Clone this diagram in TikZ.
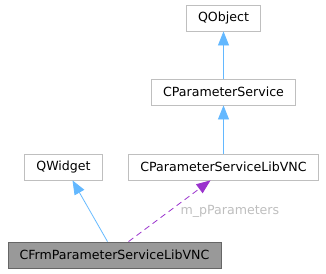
\documentclass[tikz,border=0pt]{standalone}
\usepackage{fontspec}
\setmainfont{DejaVu Sans}
\usetikzlibrary{arrows.meta}

% Doxygen colours
\definecolor{boxline}{HTML}{BFBFBF}
\definecolor{curfill}{HTML}{999999}
\definecolor{curline}{HTML}{666666}
\definecolor{inherit}{HTML}{63B8FF}
\definecolor{usage}{HTML}{9A32CD}
\definecolor{labelgray}{HTML}{BEBEBE}

\begin{document}
\begin{tikzpicture}[x=1pt,y=-1pt,
    font=\fontsize{12.6}{15}\selectfont,
    classbox/.style={draw=boxline, fill=white, line width=0.8pt,
        inner xsep=11.5pt, inner ysep=0pt, minimum height=26pt},
    curbox/.style={classbox, draw=curline, fill=curfill},
    inheritarrow/.style={draw=inherit, line width=0.8pt,
        -{Triangle[length=14pt,width=11pt]}},
    usagearrow/.style={draw=usage, line width=0.8pt, dash pattern=on 6pt off 4pt,
        -{Triangle[length=14pt,width=11pt]}}
]

\useasboundingbox (0,0) rectangle (326,273);

% =========================
% Classes
% =========================
\node[classbox] (QObject) at (223.5,18) {QObject};
\node[classbox] (CParameterService) at (223.5,92) {CParameterService};
\node[classbox] (CParameterServiceLibVNC) at (223.5,167) {CParameterServiceLibVNC};
\node[classbox] (QWidget) at (63.5,167) {QWidget};
\node[curbox] (CFrmParameterServiceLibVNC) at (114.5,255) {CFrmParameterServiceLibVNC};

% anchor points on the class boxes
\coordinate (frmA) at ([xshift=-7pt]CFrmParameterServiceLibVNC.north);
\coordinate (frmB) at ([xshift=14pt]CFrmParameterServiceLibVNC.north);
\coordinate (widgetTip) at ([xshift=9pt]QWidget.south);
\coordinate (vncTip) at ([xshift=-13pt]CParameterServiceLibVNC.south);

% =========================
% Edges
% =========================
\draw[inheritarrow] (CParameterService.north) -- (QObject.south);
\draw[inheritarrow] (CParameterServiceLibVNC.north) -- (CParameterService.south);
\draw[inheritarrow] (frmA) -- (widgetTip);
\draw[usagearrow] (frmB) -- (vncTip);

% member label
\node[text=labelgray, anchor=west] (lblParams) at (177,211) {m\_pParameters};

\end{tikzpicture}
\end{document}
